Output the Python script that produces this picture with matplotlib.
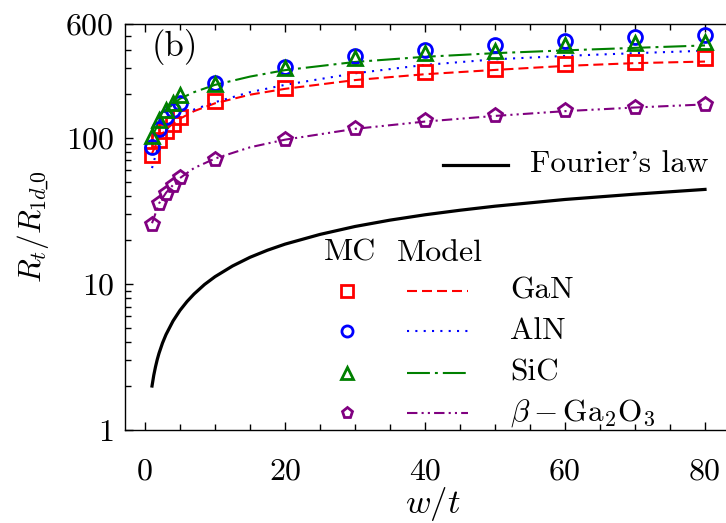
import matplotlib
matplotlib.use("Agg")
import matplotlib.pyplot as plt
from matplotlib.ticker import FixedLocator, NullFormatter, LogLocator

plt.rcParams['font.family'] = 'serif'
plt.rcParams['font.serif'] = ['cmr10']
plt.rcParams['mathtext.fontset'] = 'cm'
plt.rcParams['axes.formatter.use_mathtext'] = True

# Monte Carlo results
x_mc = [1, 2, 3, 4, 5, 10, 20, 30, 40, 50, 60, 70, 80]
gan_mc = [76, 97, 112, 124, 138, 179, 218, 251, 281, 294, 318, 332, 350]
aln_mc = [86, 115, 138, 155, 172, 237, 307, 363, 399, 432, 462, 492, 505]
sic_mc = [102, 132, 155, 173, 195, 233, 299, 350, 379, 394, 432, 443, 455]
ga2o3_mc = [25.7, 35.6, 41.7, 47.5, 54, 72, 98, 116, 132, 143, 155, 163, 170]

# Model predictions
x_model = [1, 2, 3, 4, 5, 7, 10, 15, 20, 30, 40, 50, 60, 70, 80]
gan_model = [78, 100, 114, 125, 135, 152, 172, 197, 216, 248, 272, 291, 310, 324, 332]
aln_model = [62, 92, 112, 127, 140, 156, 175, 205, 230, 276, 315, 344, 363, 379, 394]
sic_model = [100, 130, 152, 170, 185, 205, 230, 262, 290, 330, 358, 379, 396, 412, 428]
ga2o3_model = [26, 35.5, 42, 47.5, 53, 62, 72, 86, 97, 115, 129, 141, 152, 161, 169]

# Fourier's law
x_fourier = [1, 1.25, 1.5, 1.75, 2, 2.5, 3, 4, 5, 6, 7, 8.5, 10, 12.5, 15,
             17.5, 20, 25, 30, 35, 40, 45, 50, 60, 70, 80]
fourier = [2.0, 2.37, 2.71, 3.04, 3.35, 3.94, 4.5, 5.57, 6.59, 7.57, 8.52,
           9.9, 11.2, 13.25, 15.2, 17.0, 18.7, 21.8, 24.7, 27.3, 29.7,
           31.9, 34.0, 37.8, 41.1, 44.3]

materials = ['GaN', 'AlN', 'SiC', r'$\beta-\mathrm{Ga}_2\mathrm{O}_3$']
colors = ['#ff0000', '#0000ff', '#008000', '#800080']
markers = ['s', 'o', '^', 'p']
dashes = [(4.8, 2.4), (1, 3), (11, 2.4, 1.4, 2.4), (5, 2, 1, 2, 1, 2)]
mc_sets = [gan_mc, aln_mc, sic_mc, ga2o3_mc]
model_sets = [gan_model, aln_model, sic_model, ga2o3_model]

fig = plt.figure(figsize=(7.26, 5.23), dpi=100)
ax = fig.add_axes([0.1722, 0.1778, 0.8471, 0.7763])

FS = 22.5
LW = 1.5

for ys, c, m in zip(mc_sets, colors, markers):
    ax.plot(x_mc, ys, linestyle='none', marker=m, markersize=10,
            markerfacecolor='none', markeredgecolor=c, markeredgewidth=2,
            zorder=3)
for ys, c, d in zip(model_sets, colors, dashes):
    ax.plot(x_model, ys, color=c, lw=LW, dashes=d, zorder=2)

ax.plot(x_fourier, fourier, color='black', lw=2.3, zorder=2)

ax.set_yscale('log')
ax.set_xlim(-2.857, 85)
ax.set_ylim(1, 600)

ax.yaxis.set_major_locator(FixedLocator([1, 10, 100, 600]))
ax.set_yticklabels(['1', '10', '100', '600'])
ax.yaxis.set_minor_locator(LogLocator(base=10, subs=range(2, 10)))
ax.yaxis.set_minor_formatter(NullFormatter())
ax.set_xticks([0, 20, 40, 60, 80])
ax.set_xticklabels(['0', '20', '40', '60', '80'])
ax.xaxis.set_minor_locator(FixedLocator(range(0, 86, 5)))

ax.tick_params(which='both', direction='in', top=True, right=False,
               labelsize=23, width=1.0)
ax.tick_params(which='major', length=6)
ax.tick_params(which='minor', length=4)
ax.tick_params(axis='y', which='major', pad=8)
ax.tick_params(axis='x', which='major', pad=20)
ax.spines['right'].set_visible(False)
for s in ['left', 'top', 'bottom']:
    ax.spines[s].set_linewidth(1.0)

ax.set_xlabel(r'$w/t$', fontsize=25, labelpad=0)
ax.set_ylabel(r'$R_t/R_{1d\!\_\!0}$', fontsize=22.5, labelpad=11)

ax.text(0.044, 0.943, '(b)', transform=ax.transAxes, fontsize=25,
        ha='left', va='center')

# Fourier's law key
ax.plot([0.517, 0.623], [0.653, 0.653], color='black', lw=2.3,
        transform=ax.transAxes, clip_on=False)
ax.text(0.659, 0.655, "Fourier's law", transform=ax.transAxes,
        fontsize=FS, ha='left', va='center')

# MC / Model key table
def ax_x(px):
    return (px - 125) / 615.0

def ax_y(py):
    return (430 - py) / 406.0

ax.text(ax_x(350), ax_y(253), 'MC', transform=ax.transAxes, fontsize=23,
        ha='center', va='center')
ax.text(ax_x(440), ax_y(253), 'Model', transform=ax.transAxes, fontsize=23,
        ha='center', va='center')
rows = [291, 331, 373, 413]
for py, name, c, m, d in zip(rows, materials, colors, markers, dashes):
    ax.plot([ax_x(347)], [ax_y(py)], transform=ax.transAxes, marker=m,
            markersize=8, markerfacecolor='none', markeredgecolor=c,
            markeredgewidth=2, linestyle='none', clip_on=False)
    ax.plot([ax_x(407), ax_x(468)], [ax_y(py), ax_y(py)], color=c, lw=LW,
            dashes=d, transform=ax.transAxes, clip_on=False)
    ax.text(ax_x(510), ax_y(py), name, transform=ax.transAxes, fontsize=FS,
            ha='left', va='center')

fig.savefig('out.png', dpi=100)
